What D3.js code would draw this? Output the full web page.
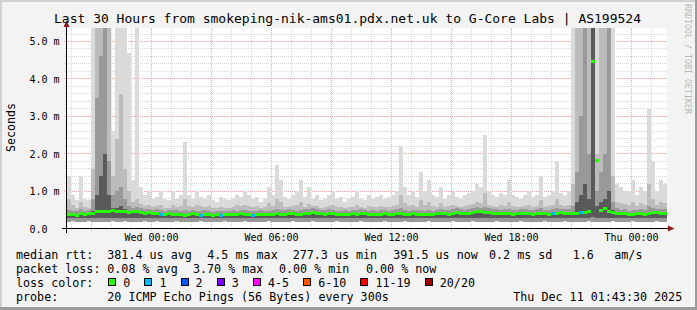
<!DOCTYPE html>
<html><head><meta charset="utf-8">
<script src="https://cdn.jsdelivr.net/npm/d3@7"></script>
<style>
body{margin:0;background:#f3f3f3}
svg{display:block}
text{font-family:"DejaVu Sans Mono",monospace;white-space:pre}
</style></head>
<body><svg id="c" width="697" height="310"></svg>
<script>
const title = "Last 30 Hours from smokeping-nik-ams01.pdx.net.uk to G-Core Labs | AS199524";
const yAxisTitle = "Seconds";
const watermark = "RRDTOOL / TOBI OETIKER";
const startTime = new Date(2025, 11, 9, 19, 48);
const endTime = new Date(2025, 11, 11, 1, 48);
const stepMinutes = 12;
const yTicks = [0, 1, 2, 3, 4, 5];
const yTickLabels = ["0.0", "1.0 m", "2.0 m", "3.0 m", "4.0 m", "5.0 m"];

// median rtt (ms) per column
const med = [
0.37,0.36,0.34,0.38,0.37,0.39,0.40,0.43,0.44,0.45,
0.44,0.46,0.45,0.43,0.45,0.41,0.44,0.43,0.42,0.40,
0.41,0.38,0.39,0.37,0.36,0.38,0.36,0.37,0.35,0.34,
0.36,0.38,0.35,0.34,0.36,0.35,0.33,0.35,0.34,0.36,
0.35,0.37,0.36,0.38,0.37,0.35,0.34,0.36,0.37,0.36,
0.35,0.37,0.38,0.36,0.37,0.39,0.38,0.36,0.37,0.39,
0.40,0.42,0.39,0.38,0.37,0.39,0.38,0.36,0.35,0.37,
0.36,0.38,0.37,0.39,0.38,0.36,0.37,0.35,0.37,0.38,
0.36,0.37,0.38,0.39,0.37,0.36,0.38,0.37,0.36,0.35,
0.37,0.36,0.38,0.40,0.38,0.37,0.39,0.41,0.40,0.38,
0.39,0.42,0.44,0.43,0.41,0.42,0.40,0.39,0.38,0.40,
0.39,0.37,0.38,0.40,0.39,0.38,0.37,0.39,0.40,0.38,
0.37,0.39,0.38,0.41,0.40,0.39,0.38,0.40,0.42,0.41,
0.43,4.45,1.80,0.46,0.52,0.45,0.41,0.40,0.38,0.39,
0.36,0.35,0.38,0.40,0.37,0.39,0.42,0.41,0.39,0.40];

// lost pings (of 20) per column
const loss = [
0,0,0,0,0,0,0,0,0,0, 0,0,0,0,0,0,0,0,0,0,
0,0,0,1,0,0,0,0,0,0, 0,0,0,1,0,0,0,0,1,0,
0,0,0,0,0,0,1,0,0,0, 0,0,0,0,0,0,0,0,0,0,
0,0,0,0,0,0,0,0,0,0, 0,0,0,0,0,0,0,0,0,0,
0,0,0,0,0,0,0,0,0,0, 0,0,0,0,0,0,0,0,0,0,
0,0,0,0,0,0,0,0,0,0, 0,0,0,0,0,0,0,0,0,0,
0,1,0,0,0,0,0,0,1,0, 0,0,0,0,0,0,0,0,0,0,
0,0,0,0,0,0,0,0,0,0];

// smoke: ping distribution per column (ms)
const smin = [
0.18,0.19,0.18,0.17,0.18,0.19,0.18,0.18,0.17,0.18,
0.18,0.19,0.18,0.18,0.19,0.18,0.18,0.17,0.18,0.19,
0.18,0.18,0.19,0.18,0.17,0.18,0.18,0.19,0.18,0.18,
0.17,0.18,0.18,0.19,0.18,0.18,0.17,0.18,0.18,0.19,
0.18,0.18,0.17,0.18,0.19,0.18,0.18,0.18,0.17,0.18,
0.19,0.18,0.18,0.17,0.18,0.18,0.19,0.18,0.18,0.17,
0.18,0.19,0.18,0.18,0.18,0.17,0.18,0.19,0.18,0.18,
0.17,0.18,0.18,0.19,0.18,0.18,0.17,0.18,0.18,0.19,
0.18,0.18,0.17,0.18,0.19,0.18,0.18,0.18,0.17,0.18,
0.19,0.18,0.18,0.17,0.18,0.18,0.19,0.18,0.18,0.17,
0.18,0.19,0.18,0.18,0.18,0.17,0.18,0.19,0.18,0.18,
0.17,0.18,0.18,0.19,0.18,0.18,0.17,0.18,0.18,0.19,
0.18,0.18,0.17,0.18,0.19,0.18,0.18,0.18,0.17,0.18,
0.19,0.18,0.18,0.17,0.18,0.18,0.19,0.18,0.18,0.17,
0.18,0.19,0.18,0.18,0.18,0.17,0.18,0.19,0.18,0.18];
const sq = [
0.28,0.29,0.28,0.27,0.28,0.29,0.28,0.29,0.28,0.29,
0.29,0.29,0.28,0.29,0.29,0.28,0.29,0.28,0.28,0.29,
0.28,0.28,0.29,0.28,0.27,0.28,0.28,0.29,0.28,0.27,
0.27,0.28,0.28,0.29,0.28,0.28,0.27,0.28,0.28,0.29,
0.28,0.28,0.27,0.28,0.29,0.28,0.27,0.28,0.27,0.28,
0.29,0.28,0.28,0.27,0.28,0.28,0.29,0.28,0.28,0.27,
0.28,0.29,0.28,0.28,0.28,0.27,0.28,0.29,0.28,0.28,
0.27,0.28,0.28,0.29,0.28,0.28,0.27,0.28,0.28,0.29,
0.28,0.28,0.27,0.28,0.29,0.28,0.28,0.28,0.27,0.28,
0.29,0.28,0.28,0.27,0.28,0.28,0.29,0.28,0.28,0.27,
0.28,0.29,0.29,0.28,0.28,0.28,0.28,0.29,0.28,0.28,
0.27,0.28,0.28,0.29,0.28,0.28,0.27,0.28,0.28,0.29,
0.28,0.28,0.27,0.28,0.29,0.28,0.28,0.28,0.29,0.28,
0.29,0.31,0.29,0.28,0.29,0.29,0.29,0.28,0.28,0.27,
0.28,0.29,0.28,0.28,0.28,0.27,0.28,0.29,0.28,0.28];
const s1 = [
0.42,0.41,0.39,0.43,0.42,0.44,0.46,0.90,1.40,2.00,
0.90,0.56,0.56,0.60,0.52,0.47,0.49,0.48,0.47,0.45,
0.46,0.43,0.44,0.42,0.41,0.43,0.41,0.42,0.40,0.39,
0.41,0.43,0.40,0.39,0.41,0.40,0.38,0.40,0.39,0.41,
0.40,0.42,0.41,0.43,0.42,0.40,0.39,0.41,0.42,0.41,
0.40,0.42,0.43,0.41,0.42,0.44,0.43,0.41,0.42,0.44,
0.45,0.47,0.44,0.43,0.42,0.44,0.43,0.41,0.40,0.42,
0.41,0.43,0.42,0.44,0.43,0.41,0.42,0.40,0.42,0.43,
0.41,0.42,0.43,0.44,0.42,0.41,0.43,0.42,0.41,0.40,
0.42,0.41,0.43,0.45,0.43,0.42,0.44,0.46,0.45,0.43,
0.44,0.47,0.49,0.48,0.46,0.47,0.45,0.44,0.43,0.45,
0.44,0.42,0.43,0.45,0.44,0.43,0.42,0.44,0.45,0.43,
0.42,0.44,0.43,0.46,0.45,0.44,0.45,0.70,0.90,1.20,
0.80,5.50,0.60,0.70,0.80,1.00,0.50,0.45,0.43,0.44,
0.41,0.40,0.43,0.45,0.42,0.44,0.47,0.46,0.44,0.45];
const s2 = [
0.50,0.48,0.46,0.52,0.48,0.50,0.80,3.50,4.60,5.50,
1.80,0.90,1.00,1.10,0.80,0.60,0.56,0.58,0.54,0.52,
0.53,0.50,0.52,0.49,0.48,0.50,0.49,0.50,0.47,0.50,
0.48,0.50,0.47,0.46,0.49,0.47,0.45,0.47,0.46,0.48,
0.47,0.50,0.48,0.50,0.50,0.47,0.46,0.48,0.49,0.48,
0.48,0.50,0.53,0.50,0.49,0.51,0.50,0.48,0.50,0.51,
0.53,0.55,0.51,0.50,0.49,0.51,0.50,0.48,0.47,0.49,
0.48,0.50,0.50,0.51,0.50,0.48,0.49,0.47,0.49,0.50,
0.48,0.49,0.51,0.56,0.50,0.48,0.50,0.49,0.50,0.47,
0.50,0.48,0.50,0.53,0.50,0.49,0.51,0.54,0.52,0.50,
0.51,0.55,0.58,0.56,0.58,0.54,0.52,0.51,0.50,0.52,
0.53,0.49,0.50,0.52,0.51,0.50,0.49,0.51,0.55,0.50,
0.49,0.52,0.55,0.53,0.52,0.51,0.60,1.50,3.00,5.50,
2.00,5.50,1.00,1.50,2.00,5.50,0.70,0.54,0.50,0.51,
0.48,0.50,0.50,0.52,0.49,0.60,0.56,0.53,0.52,0.51];
const s3 = [
0.80,0.62,0.56,0.72,0.58,0.56,1.60,5.50,5.50,5.50,
5.50,1.40,2.40,3.60,1.60,1.00,0.72,0.80,0.66,0.60,
0.64,0.58,0.60,0.62,0.56,0.56,0.62,0.57,0.60,0.80,
0.60,0.58,0.64,0.60,0.57,0.60,0.55,0.54,0.58,0.56,
0.56,0.58,0.62,0.60,0.64,0.60,0.57,0.60,0.54,0.58,
0.68,0.60,0.80,0.72,0.58,0.57,0.60,0.64,0.72,0.58,
0.66,0.60,0.60,0.56,0.57,0.60,0.64,0.57,0.58,0.54,
0.57,0.58,0.64,0.57,0.56,0.60,0.57,0.58,0.60,0.57,
0.58,0.60,0.64,0.90,0.68,0.60,0.64,0.58,0.76,0.64,
0.72,0.60,0.58,0.68,0.57,0.60,0.64,0.60,0.58,0.60,
0.62,0.66,0.72,0.68,0.95,0.64,0.60,0.58,0.62,0.60,
0.72,0.60,0.58,0.57,0.60,0.64,0.58,0.60,0.76,0.58,
0.60,0.64,0.80,0.62,0.60,0.64,1.20,5.50,5.50,5.50,
5.50,5.50,2.00,5.50,5.50,5.50,1.40,0.72,0.68,0.66,
0.64,0.72,0.60,0.68,0.64,1.20,0.80,0.64,0.72,0.68];
const smax = [
1.40,0.90,0.75,1.40,0.80,0.75,5.50,5.50,5.50,5.50,
5.50,2.60,5.50,5.50,5.50,4.70,1.30,5.50,1.10,0.90,
1.00,0.80,0.85,1.00,0.80,0.75,1.00,0.80,0.90,2.30,
0.90,0.80,1.00,0.85,0.80,0.90,0.75,0.70,0.85,0.80,
0.75,0.80,0.90,0.85,1.00,0.90,0.80,0.85,0.70,0.80,
1.10,0.90,1.70,1.30,0.85,0.80,0.90,1.00,1.30,0.85,
1.10,0.80,0.90,0.75,0.80,0.90,1.00,0.80,0.85,0.70,
0.80,0.85,1.00,0.80,0.75,0.90,0.80,0.85,0.90,0.80,
0.85,0.90,1.00,2.20,1.10,0.90,1.00,0.85,1.50,1.00,
1.30,0.90,0.85,1.10,0.80,0.90,1.00,0.85,0.80,0.90,
0.95,1.00,1.20,1.10,2.50,1.00,0.90,0.85,0.95,0.90,
1.30,0.90,0.85,0.80,0.90,1.00,0.85,0.90,1.40,0.85,
0.90,1.00,1.80,0.95,0.90,1.00,5.50,5.50,5.50,5.50,
5.50,5.50,5.50,5.50,5.50,5.50,5.50,1.20,1.10,1.00,
1.00,1.30,0.90,1.10,1.00,3.20,1.80,1.00,1.30,1.20];

const lossLabels = ["0", "1", "2", "3", "4-5", "6-10", "11-19", "20/20"];
const lossColors = ["#26ff00", "#00b8ff", "#0059ff", "#7e00ff", "#ff00ff", "#ff5500", "#ff0000", "#a00000"];
const rttStats = ["381.4 us avg", "4.5 ms max", "277.3 us min", "391.5 us now", "0.2 ms sd", "1.6", "am/s"];
const lossStats = ["0.08 % avg", "3.70 % max", "0.00 % min", "0.00 % now"];
const probeText = "20 ICMP Echo Pings (56 Bytes) every 300s";
const stampText = "Thu Dec 11 01:43:30 2025";

const svg = d3.select("#c");
const W = 697, H = 310;
const L = 67, R = 667, T = 28, B = 229;

svg.append("rect").attr("width", W).attr("height", H).attr("fill", "#f3f3f3");
svg.append("rect").attr("x",0).attr("y",0).attr("width",W).attr("height",2).attr("fill","#d0d0d0");
svg.append("rect").attr("x",0).attr("y",0).attr("width",2).attr("height",H).attr("fill","#d0d0d0");
svg.append("rect").attr("x",W-2).attr("y",0).attr("width",2).attr("height",H).attr("fill","#9b9b9b");
svg.append("rect").attr("x",0).attr("y",H-3).attr("width",W).attr("height",3).attr("fill","#9b9b9b");

svg.append("rect").attr("x", L).attr("y", T).attr("width", R - L).attr("height", B - T).attr("fill", "#ffffff");

const x = d3.scaleTime().domain([startTime, endTime]).range([L, R]);
const y = d3.scaleLinear().domain([0, 5.374]).range([228.5, 27.5]);
const crisp = v => Math.round(v - 0.5) + 0.5;

const g = svg.append("g");
const minorY = d3.range(0, 5.3, 0.2).filter(v => Math.abs(v - Math.round(v)) > 1e-6);
g.selectAll(".hmin").data(minorY).join("line")
  .attr("x1", 64).attr("x2", R).attr("y1", d => crisp(y(d))).attr("y2", d => crisp(y(d)))
  .attr("stroke", "#d8d8d8").attr("stroke-dasharray", "1,1");
const hours = d3.timeHour.every(1).range(startTime, endTime);
g.selectAll(".vmin").data(hours.filter(h => h.getHours() % 3 !== 0)).join("line")
  .attr("x1", d => crisp(x(d))).attr("x2", d => crisp(x(d))).attr("y1", T).attr("y2", 231)
  .attr("stroke", "#d8d8d8").attr("stroke-dasharray", "1,1");
g.selectAll(".hmaj").data(yTicks.slice(1)).join("line")
  .attr("x1", 64).attr("x2", R).attr("y1", d => crisp(y(d))).attr("y2", d => crisp(y(d)))
  .attr("stroke", "#eaa4a4").attr("stroke-dasharray", "1,1");
g.selectAll(".vmaj").data(hours.filter(h => h.getHours() % 3 === 0)).join("line")
  .attr("x1", d => crisp(x(d))).attr("x2", d => crisp(x(d))).attr("y1", T).attr("y2", 231)
  .attr("stroke", "#eaa4a4").attr("stroke-dasharray", "1,1");

svg.append("clipPath").attr("id", "clip").append("rect")
  .attr("x", L).attr("y", T).attr("width", R - L).attr("height", B - T);
const plot = svg.append("g").attr("clip-path", "url(#clip)").attr("shape-rendering", "crispEdges");
const colT = i => d3.timeMinute.offset(startTime, i * stepMinutes);
const idx = d3.range(med.length);
const bands = [
  {hi: smax, lo: smin, c: "#dadada"},
  {hi: s3, lo: smin, c: "#bcbcbc"},
  {hi: s2, lo: smin, c: "#999999"},
  {hi: s1, lo: sq, c: "#5a5a5a"}
];
bands.forEach(b => {
  plot.append("g").selectAll("rect").data(idx).join("rect")
    .attr("x", i => Math.round(x(colT(i))))
    .attr("width", i => Math.round(x(colT(i + 1))) - Math.round(x(colT(i))))
    .attr("y", i => Math.round(y(b.hi[i])))
    .attr("height", i => Math.max(0, Math.round(y(b.lo[i])) - Math.round(y(b.hi[i]))))
    .attr("fill", b.c);
});
const lossBucket = n => n === 0 ? 0 : n === 1 ? 1 : n === 2 ? 2 : n === 3 ? 3 : n <= 5 ? 4 : n <= 10 ? 5 : n <= 19 ? 6 : 7;
plot.append("g").selectAll("rect").data(idx).join("rect")
  .attr("x", i => Math.round(x(colT(i))))
  .attr("width", i => Math.round(x(colT(i + 1))) - Math.round(x(colT(i))))
  .attr("y", i => Math.round(y(med[i])) - 2)
  .attr("height", 3)
  .attr("fill", i => lossColors[lossBucket(loss[i])]);

svg.append("line").attr("x1", 62).attr("x2", 670).attr("y1", 228.5).attr("y2", 228.5).attr("stroke", "#000");
svg.append("line").attr("x1", 66.5).attr("x2", 66.5).attr("y1", 233).attr("y2", 25).attr("stroke", "#000");
svg.append("path").attr("d", "M668,225.5L674.5,228.5L668,231.5Z").attr("fill", "#8b1a1a");
svg.append("path").attr("d", "M63.5,27L66.5,20.5L69.5,27Z").attr("fill", "#8b1a1a");

svg.selectAll(".yl").data(yTicks).join("text")
  .attr("x", 29.5).attr("y", d => y(d) + 4).attr("font-size", 10).attr("fill", "#000")
  .text((d, i) => yTickLabels[i]);
svg.selectAll(".xl").data(d3.timeHour.every(6).range(startTime, endTime)).join("text")
  .attr("x", d => crisp(x(d))).attr("y", 241).attr("font-size", 10).attr("text-anchor", "middle")
  .text(d3.timeFormat("%a %H:%M"));

svg.append("text").attr("x", 347.5).attr("y", 23).attr("font-size", 13).attr("text-anchor", "middle").text(title);
svg.append("text").attr("transform", "translate(15,127.5) rotate(-90)").attr("font-size", 11.6)
  .attr("text-anchor", "middle").text(yAxisTitle);
svg.append("text").attr("transform", "translate(685,4) rotate(90)").attr("font-size", 8.3)
  .attr("fill", "#b8b8b8").text(watermark);

const fs = 11.7;
const row = [258.5, 272.5, 286.5, 300.5];
const leg = svg.append("g").attr("font-size", fs);
leg.append("text").attr("x", 16).attr("y", row[0]).text("median rtt:");
[107.3, 207.3, 292.7, 393.3, 489, 572.7, 614.3].forEach((px, i) =>
  leg.append("text").attr("x", px).attr("y", row[0]).text(rttStats[i]));
leg.append("text").attr("x", 16).attr("y", row[1]).text("packet loss:");
[107.3, 193, 279, 366].forEach((px, i) =>
  leg.append("text").attr("x", px).attr("y", row[1]).text(lossStats[i]));
leg.append("text").attr("x", 16).attr("y", row[2]).text("loss color:");
let lx = 108.3;
const cw = 7.05;
lossLabels.forEach((lab, i) => {
  leg.append("rect").attr("x", Math.round(lx) + 0.5).attr("y", 278.5).attr("width", 7).attr("height", 7)
    .attr("fill", lossColors[i]).attr("stroke", "#000");
  leg.append("text").attr("x", lx + 15).attr("y", row[2]).text(lab);
  lx += 15 + lab.length * cw + 2 * cw;
});
leg.append("text").attr("x", 16).attr("y", row[3]).text("probe:");
leg.append("text").attr("x", 107.3).attr("y", row[3]).text(probeText);
leg.append("text").attr("x", 513.3).attr("y", row[3]).text(stampText);
</script></body></html>
